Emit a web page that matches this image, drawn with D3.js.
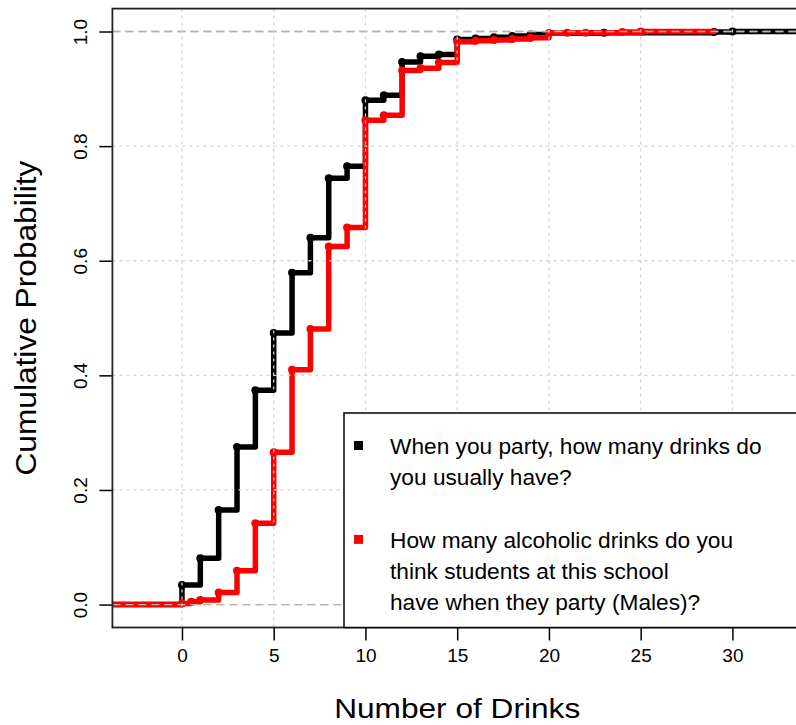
<!DOCTYPE html>
<html>
<head>
<meta charset="utf-8">
<script src="https://cdn.jsdelivr.net/npm/d3@7"></script>
<style>
	body { margin: 0; background: #fff; }
	svg { display: block; font-family: "Liberation Sans", Arial, sans-serif; }
</style>
</head>
<body>
<div class="ecdfPlot"></div>
<script>

// "When you party, how many drinks do you usually have?"
var drinks_self = [0, 1, 2, 3, 4, 5, 6, 7, 8, 9, 10, 11, 12, 13, 14, 15, 16, 17, 18, 19, 20, 23, 29, 30];
var cdf_self = [0.034, 0.081, 0.165, 0.275, 0.374, 0.474, 0.579, 0.640, 0.744, 0.765, 0.880, 0.889, 0.947, 0.957, 0.960, 0.986, 0.988, 0.990, 0.992, 0.995, 0.997, 0.998, 0.999, 1.0];

// "How many alcoholic drinks do you think students ... (Males)?"
var drinks_males = [0, 0.5, 1, 2, 3, 4, 5, 6, 7, 8, 9, 10, 11, 12, 13, 14, 15, 16, 17, 18, 19, 20, 21, 22, 24, 25];
var cdf_males = [0.002, 0.005, 0.008, 0.021, 0.059, 0.142, 0.266, 0.410, 0.481, 0.625, 0.658, 0.845, 0.854, 0.932, 0.936, 0.946, 0.982, 0.984, 0.985, 0.987, 0.989, 0.997, 0.998, 0.998, 0.999, 1.0];

var x_ticks = [0, 5, 10, 15, 20, 25, 30];
var y_ticks = [0, 0.2, 0.4, 0.6, 0.8, 1.0];

var legend_self = ["When you party, how many drinks do", "you usually have?"];
var legend_males = ["How many alcoholic drinks do you", "think students at this school", "have when they party (Males)?"];

var series = [
	{ "x": drinks_self, "p": cdf_self, "color": "#000000", "label": legend_self },
	{ "x": drinks_males, "p": cdf_males, "color": "#ff0000", "label": legend_males }
];

// stepfun extent like R: range of knots +/- 2*dr
function stepExtent(xs) {
	var rx = d3.extent(xs);
	var dr = Math.max(0.08 * (rx[1] - rx[0]), d3.median(d3.pairs(xs, (a, b) => b - a)));
	return { "xlim": [rx[0] - dr, rx[1] + dr], "ends": [rx[0] - 2 * dr, rx[1] + 2 * dr] };
}

// set the dimensions and margins of the graph
var margin = {top: 8.6, right: -6, bottom: 97.5, left: 112.4},
	width = 796 - margin.left - margin.right,
	height = 725 - margin.top - margin.bottom;

var svg = d3.select(".ecdfPlot")
	.append("svg")
	.attr("width", 796)
	.attr("height", 725)
	.append("g")
	.attr("transform", "translate(" + margin.left + "," + margin.top + ")");

// x limits from the first curve, plus the usual 4% padding
var xlim = stepExtent(drinks_self).xlim,
	xpad = 0.04 * (xlim[1] - xlim[0]);

var x = d3.scaleLinear()
	.domain([xlim[0] - xpad, xlim[1] + xpad])
	.range([0, width]);

var y = d3.scaleLinear()
	.domain([-0.04, 1.04])
	.range([height, 0]);

svg.append("clipPath")
	.attr("id", "plotClip")
	.append("rect")
	.attr("width", width)
	.attr("height", height);

var plot = svg.append("g").attr("clip-path", "url(#plotClip)");

var stepLine = d3.line()
	.x(d => x(d[0]))
	.y(d => y(d[1]))
	.curve(d3.curveStepAfter);

series.forEach(function(s) {

	var ext = stepExtent(s.x);
	var pts = [[ext.ends[0], 0]].concat(s.x.map((v, i) => [v, s.p[i]]));
	pts.push([ext.ends[1], s.p[s.p.length - 1]]);

	plot.append("path")
		.datum(pts)
		.attr("d", stepLine)
		.attr("fill", "none")
		.attr("stroke", s.color)
		.attr("stroke-width", 5.5)
		.attr("stroke-linejoin", "round")
		.attr("stroke-linecap", "round");

	plot.append("g")
		.selectAll("circle")
		.data(s.x.map((v, i) => [v, s.p[i]]))
		.join("circle")
		.attr("cx", d => x(d[0]))
		.attr("cy", d => y(d[1]))
		.attr("r", 4)
		.attr("fill", s.color);

	// 0 and 1 reference lines
	plot.append("g")
		.selectAll("line")
		.data([0, 1])
		.join("line")
		.attr("x1", 0)
		.attr("x2", width)
		.attr("y1", d => y(d))
		.attr("y2", d => y(d))
		.attr("stroke", "#b3b3b3")
		.attr("stroke-width", 1.4)
		.attr("stroke-dasharray", "8,5");
});

/* grid */
var grid = plot.append("g")
	.attr("stroke", "#d3d3d3")
	.attr("stroke-width", 1.3)
	.attr("stroke-dasharray", "3,4");

grid.append("g")
	.selectAll("line")
	.data(x_ticks)
	.join("line")
	.attr("x1", d => x(d))
	.attr("x2", d => x(d))
	.attr("y1", 0)
	.attr("y2", height);

grid.append("g")
	.selectAll("line")
	.data(y_ticks.filter(d => d > 0 && d < 1))
	.join("line")
	.attr("x1", 0)
	.attr("x2", width)
	.attr("y1", d => y(d))
	.attr("y2", d => y(d));

/* axes */
svg.append("g")
	.attr("transform", "translate(0," + height + ")")
	.call(d3.axisBottom(x).tickValues(x_ticks).tickSize(13).tickPadding(8).tickSizeOuter(0))
	.call(g => g.select(".domain").remove())
	.call(g => g.selectAll("line").attr("stroke-width", 1.5))
	.call(g => g.selectAll("text").attr("font-size", "19px").attr("fill", "#000").attr("font-family", null));

var yAxis = svg.append("g")
	.call(d3.axisLeft(y).tickValues(y_ticks).tickSize(13).tickSizeOuter(0).tickFormat(d3.format(".1f")))
	.call(g => g.select(".domain").remove())
	.call(g => g.selectAll("line").attr("stroke-width", 1.5));

yAxis.selectAll("text")
	.attr("font-size", "19px")
	.attr("fill", "#000")
	.attr("font-family", null)
	.attr("text-anchor", "middle")
	.attr("x", null)
	.attr("dy", "0.35em")
	.attr("transform", "translate(-32,0) rotate(-90)");

// frame
svg.append("rect")
	.attr("width", width)
	.attr("height", height)
	.attr("fill", "none")
	.attr("stroke", "#222")
	.attr("stroke-width", 1.8);

// axis titles
svg.append("text")
	.attr("x", (x(xlim[0] - xpad) + x(xlim[1] + xpad)) / 2)
	.attr("y", height + 81)
	.attr("dy", "0.35em")
	.attr("text-anchor", "middle")
	.attr("font-size", "28px")
	.attr("textLength", 246)
	.attr("lengthAdjust", "spacingAndGlyphs")
	.text("Number of Drinks");

svg.append("text")
	.attr("transform", "translate(" + (25 - margin.left) + "," + (height / 2) + ") rotate(-90)")
	.attr("dy", "0.35em")
	.attr("text-anchor", "middle")
	.attr("font-size", "30px")
	.attr("textLength", 315)
	.attr("lengthAdjust", "spacingAndGlyphs")
	.text("Cumulative Probability");

/* legend */
var legend = svg.append("g")
	.attr("transform", "translate(" + (344 - margin.left) + "," + (413 - margin.top) + ")");

legend.append("rect")
	.attr("width", 796 - 344 + 20)
	.attr("height", height - (413 - margin.top))
	.attr("fill", "#fff")
	.attr("stroke", "#000")
	.attr("stroke-width", 1.5);

var lineStarts = [0, 3];

series.forEach(function(s, k) {

	var top = 33 + lineStarts[k] * 31.3;

	legend.append("rect")
		.attr("x", 10)
		.attr("y", top - 5)
		.attr("width", 9)
		.attr("height", 9)
		.attr("fill", s.color);

	legend.append("g")
		.selectAll("text")
		.data(s.label)
		.join("text")
		.attr("x", 46)
		.attr("y", (d, i) => top + i * 31.3)
		.attr("dy", "0.35em")
		.attr("font-size", "22.7px")
		.text(d => d);
});

</script>
</body>
</html>
